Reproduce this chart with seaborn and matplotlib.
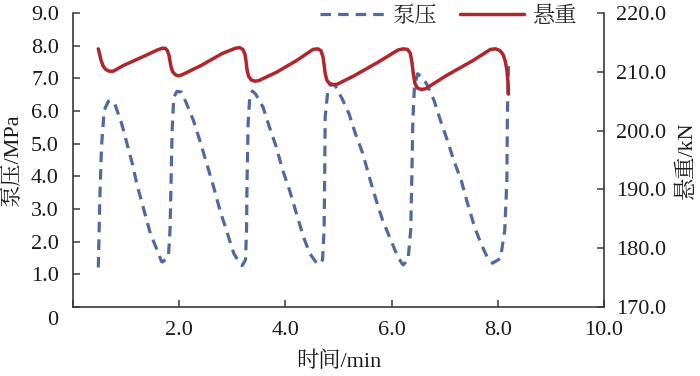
import matplotlib
matplotlib.use("Agg")
import matplotlib.pyplot as plt
import seaborn as sns
import pandas as pd
from matplotlib.lines import Line2D

# ---- data ----
pump_time = [0.48, 0.51, 0.54, 0.59, 0.67, 0.71, 0.79, 0.92, 1.02, 1.12, 1.21, 1.34, 1.46, 1.60, 1.67, 1.69,
             1.80, 1.83, 1.85, 1.87, 1.90, 1.96, 2.04,
             2.13, 2.27, 2.39, 2.52, 2.65, 2.77, 2.91, 3.03, 3.16, 3.19, 3.25, 3.27, 3.28, 3.30, 3.33, 3.38, 3.44,
             3.58, 3.70, 3.83, 3.95, 4.08, 4.21, 4.34, 4.46, 4.59, 4.64, 4.70, 4.73, 4.74, 4.75, 4.80, 4.86, 4.94,
             5.07, 5.20, 5.32, 5.46, 5.58, 5.71, 5.83, 5.96, 6.09, 6.19, 6.22, 6.31, 6.36, 6.38, 6.40, 6.43, 6.49,
             6.57, 6.66,
             6.80, 6.92, 7.05, 7.17, 7.31, 7.43, 7.56, 7.68, 7.81, 7.90, 8.05, 8.13, 8.17, 8.18, 8.20]
pump_pressure = [1.21, 3.37, 4.90, 6.02, 6.30, 6.32, 6.22, 5.61, 5.00, 4.39, 3.73, 2.96, 2.25, 1.69, 1.39, 1.38,
                 1.54, 2.35, 3.88, 5.41, 6.42, 6.60, 6.58,
                 6.27, 5.71, 5.10, 4.39, 3.68, 2.96, 2.25, 1.64, 1.29, 1.27, 1.44, 2.35, 3.88, 5.61, 6.42, 6.61, 6.52,
                 6.12, 5.51, 4.90, 4.19, 3.57, 2.86, 2.15, 1.64, 1.34, 1.31, 1.44, 2.35, 3.88, 5.81, 6.62, 6.83, 6.78,
                 6.37, 5.91, 5.30, 4.69, 3.98, 3.27, 2.66, 2.15, 1.64, 1.34, 1.29, 1.44, 2.35, 3.88, 5.71, 6.73, 7.14,
                 7.03, 6.83,
                 6.32, 5.71, 5.10, 4.49, 3.88, 3.17, 2.46, 1.95, 1.49, 1.34, 1.49, 2.35, 3.88, 5.91, 7.44]

hook_time = [0.48, 0.50, 0.53, 0.57, 0.62, 0.68, 0.76, 0.96, 1.28, 1.59, 1.68, 1.74, 1.78, 1.81, 1.83, 1.85,
             1.88, 1.93, 1.99, 2.06, 2.42, 2.81, 3.06, 3.14, 3.20, 3.24, 3.26, 3.28, 3.31, 3.36, 3.43, 3.50,
             3.83, 4.21, 4.52, 4.61, 4.67, 4.71, 4.73, 4.75, 4.78, 4.83, 4.90, 4.98, 5.29, 5.74, 6.12, 6.22,
             6.30, 6.35, 6.38, 6.41, 6.44, 6.49, 6.56, 6.64, 7.02, 7.53, 7.86, 7.96, 8.04, 8.10, 8.14, 8.17,
             8.19, 8.20]
hook_load = [213.9, 213.2, 212.0, 211.0, 210.4, 210.1, 210.1, 211.1, 212.4, 213.7, 214.0, 214.0, 213.6, 212.8,
             211.8, 210.8, 210.0, 209.5, 209.3, 209.5, 211.1, 213.1, 214.0, 214.1, 213.8, 213.0, 211.8, 210.3,
             209.2, 208.6, 208.4, 208.5, 209.9, 211.9, 213.8, 213.9, 213.6, 212.5, 211.2, 209.7, 208.6, 208.0,
             207.8, 207.9, 209.3, 211.6, 213.7, 213.9, 213.8, 213.2, 211.8, 209.6, 208.0, 207.2, 207.0, 207.1,
             209.3, 211.9, 213.8, 213.9, 213.6, 212.9, 211.8, 210.3, 208.3, 206.2]

x_ticks = [0, 2, 4, 6, 8, 10]
x_tick_labels = ["", "2.0", "4.0", "6.0", "8.0", "10.0"]
left_ticks = [0, 1, 2, 3, 4, 5, 6, 7, 8, 9]
left_tick_labels = ["", "1.0", "2.0", "3.0", "4.0", "5.0", "6.0", "7.0", "8.0", "9.0"]
right_ticks = [170, 180, 190, 200, 210, 220]
right_tick_labels = ["170.0", "180.0", "190.0", "200.0", "210.0", "220.0"]

label_pump = "泵压"
label_hook = "悬重"
xlabel = "时间/min"
ylabel_left = "泵压/MPa"
ylabel_right = "悬重/kN"

blue = "#5069A0"
red = "#B0262A"
spine_col = "#3a3a3a"

sns.set_theme(style="white")
plt.rcParams["font.family"] = ["Liberation Serif", "Noto Serif CJK SC", "Noto Sans CJK SC", "DejaVu Sans"]
plt.rcParams["font.size"] = 16
plt.rcParams["axes.unicode_minus"] = False

fig = plt.figure(figsize=(7, 3.76), dpi=100)
ax = fig.add_axes([0.104, 0.1835, 0.759, 0.782])
ax2 = ax.twinx()

pump_df = pd.DataFrame({"t": pump_time, "p": pump_pressure})
hook_df = pd.DataFrame({"t": hook_time, "w": hook_load})

sns.lineplot(data=pump_df, x="t", y="p", ax=ax, color=blue, linewidth=2.3,
             sort=False, estimator=None, legend=False)
ax.lines[-1].set_linestyle((0, (3.3, 2.2)))
ax.lines[-1].set_solid_joinstyle("round")
sns.lineplot(data=hook_df, x="t", y="w", ax=ax2, color=red, linewidth=2.5,
             sort=False, estimator=None, legend=False)
ax2.lines[-1].set_solid_joinstyle("round")

ax.set_xlim(0, 10)
ax.set_ylim(0, 9)
ax2.set_ylim(170, 220)

ax.set_xticks(x_ticks)
ax.set_xticklabels(x_tick_labels)
ax.set_yticks(left_ticks)
ax.set_yticklabels(left_tick_labels)
ax2.set_yticks(right_ticks)
ax2.set_yticklabels(right_tick_labels)

for a in (ax, ax2):
    a.spines["top"].set_visible(False)
    for s in a.spines.values():
        s.set_color(spine_col)
        s.set_linewidth(1.2)
    a.grid(False)
ax.spines["right"].set_visible(False)
ax2.spines["left"].set_visible(False)
ax2.spines["bottom"].set_visible(False)

ax.tick_params(axis="x", bottom=True, direction="in", length=5, width=1.1, color=spine_col,
               pad=10, labelsize=16, labelcolor="#1a1a1a")
ax.tick_params(axis="y", left=True, direction="in", length=5, width=1.1, color=spine_col,
               pad=10, labelsize=16, labelcolor="#1a1a1a")
ax2.tick_params(axis="y", right=True, direction="in", length=5, width=1.1, color=spine_col,
                pad=8.5, labelsize=16, labelcolor="#1a1a1a")

ax.annotate("0", xy=(0, 0), xycoords="axes fraction", xytext=(-10.5, -9.5),
            textcoords="offset points", ha="right", va="center", fontsize=16, color="#1a1a1a")

ax.set_xlabel(xlabel, fontsize=16, color="#1a1a1a", labelpad=8)
ax.set_ylabel(ylabel_left, fontsize=16, color="#1a1a1a")
ax.yaxis.set_label_coords(-0.094, 0.5)
ax2.set_ylabel(ylabel_right, fontsize=16, color="#1a1a1a")
ax2.yaxis.set_label_coords(1.136, 0.5)

handles = [Line2D([0], [0], color=blue, lw=2.3, linestyle=(0, (3.3, 2.2))),
           Line2D([0], [0], color=red, lw=2.5)]
fig.legend(handles, [label_pump, label_hook], loc="center", bbox_to_anchor=(0.641, 0.955),
           ncol=2, frameon=False, handlelength=2.9, handletextpad=0.4, columnspacing=1.0,
           fontsize=16, borderpad=0.0)

fig.savefig("out.png", dpi=100)
